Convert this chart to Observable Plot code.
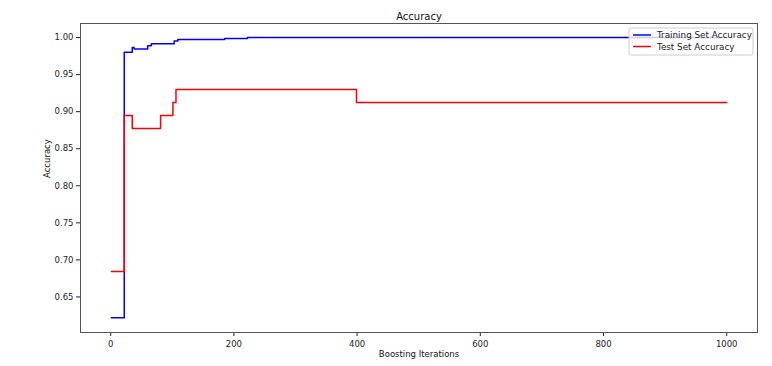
<!DOCTYPE html>
<html>
<head>
<meta charset="utf-8">
<script src="https://cdn.jsdelivr.net/npm/d3@7"></script>
<script src="https://cdn.jsdelivr.net/npm/@observablehq/plot@0.6"></script>
<style>
  html, body { margin: 0; padding: 0; background: #fff; }
  #chart { width: 772px; height: 366px; }
</style>
</head>
<body>
<div id="chart"></div>
<script>
// Step change points (iteration where the value changes)
const trainIter = [1, 22, 35, 38, 60, 66, 103, 109, 185, 222, 1000];
const trainAcc  = [0.6220, 0.9802, 0.9866, 0.9846, 0.9890, 0.9916, 0.9954, 0.9973, 0.9987, 1.0, 1.0];
const testIter  = [1, 22, 35, 81, 101, 106, 399, 1000];
const testAcc   = [0.6842, 0.8947, 0.8772, 0.8947, 0.9123, 0.9298, 0.9123, 0.9123];
const xTicks = [0, 200, 400, 600, 800, 1000];
const yTicks = [0.65, 0.70, 0.75, 0.80, 0.85, 0.90, 0.95, 1.00];
const seriesNames = ["Training Set Accuracy", "Test Set Accuracy"];
const seriesColors = ["blue", "red"];

const train = trainIter.map((x, i) => ({x, y: trainAcc[i]}));
const test = testIter.map((x, i) => ({x, y: testAcc[i]}));

const W = 772, H = 366;
const mL = 80, mR = 15, mT = 23, mB = 34;

const plot = Plot.plot({
  width: W,
  height: H,
  marginLeft: mL,
  marginRight: mR,
  marginTop: mT,
  marginBottom: mB,
  style: {fontFamily: "DejaVu Sans", fontSize: "8.5px", color: "#222", background: "#fff"},
  x: {domain: [-49, 1050], ticks: xTicks, tickFormat: d3.format("d"), tickSize: 4, tickPadding: 4, label: null},
  y: {domain: [0.602, 1.019], ticks: yTicks, tickFormat: d3.format(".2f"), tickSize: 4, tickPadding: 3, label: null},
  marks: [
    Plot.line(train, {x: "x", y: "y", curve: "step-after", stroke: seriesColors[0], strokeWidth: 1.5}),
    Plot.line(test, {x: "x", y: "y", curve: "step-after", stroke: seriesColors[1], strokeWidth: 1.5}),
    Plot.frame({stroke: "#555", strokeWidth: 1}),
    Plot.text(["Accuracy"], {frameAnchor: "top", dy: -11, fontSize: 10, fill: "#111"}),
    Plot.text(["Boosting Iterations"], {frameAnchor: "bottom", dy: 24, fontSize: 8.5, fill: "#111"}),
    Plot.text(["Accuracy"], {frameAnchor: "left", dx: -33, rotate: -90, fontSize: 8.5, fill: "#111"})
  ]
});
document.getElementById("chart").appendChild(plot);

// Legend (upper right inside the frame)
const svg = d3.select(plot);
const lg = svg.append("g").attr("font-family", "DejaVu Sans").attr("font-size", 8.8)
  .attr("text-anchor", "start");
const lx = 629, ly = 28, lw = 124, lh = 27;
lg.append("rect").attr("x", lx).attr("y", ly).attr("width", lw).attr("height", lh)
  .attr("rx", 2).attr("fill", "rgba(255,255,255,0.8)").attr("stroke", "#ccc");
seriesNames.forEach((name, i) => {
  const yy = ly + 7 + i * 11.5;
  lg.append("line").attr("x1", lx + 4).attr("x2", lx + 22).attr("y1", yy).attr("y2", yy)
    .attr("stroke", seriesColors[i]).attr("stroke-width", 1.5);
  lg.append("text").attr("x", lx + 28).attr("y", yy).attr("dy", "0.35em")
    .attr("text-anchor", "start").attr("fill", "#222").text(name);
});
</script>
</body>
</html>
